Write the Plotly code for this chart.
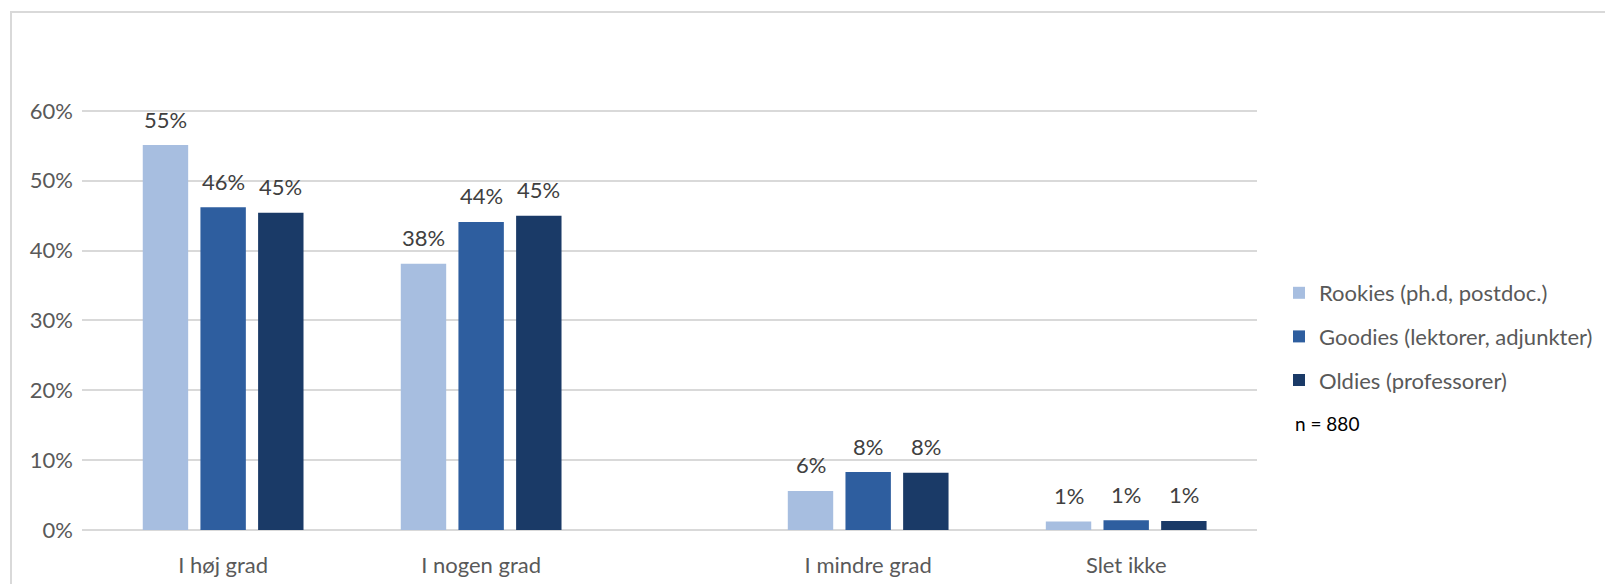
import plotly.graph_objects as go

categories = ["I høj grad", "I nogen grad", "I mindre grad", "Slet ikke"]
cat_pos = [0, 1, 2.5, 3.5]
series_names = ["Rookies (ph.d, postdoc.)", "Goodies (lektorer, adjunkter)", "Oldies (professorer)"]
rookies = [0.551, 0.381, 0.056, 0.012]
goodies = [0.462, 0.441, 0.083, 0.014]
oldies = [0.454, 0.450, 0.082, 0.013]
colors = ["#A7BEE0", "#2E5E9F", "#1A3A67"]
y_ticks = [0, 0.1, 0.2, 0.3, 0.4, 0.5, 0.6]
note = "n = 880"

FONT = "Lato, 'Open Sans', sans-serif"
step = 0.2235
bw = 0.176

# page body has an 8px margin, so the figure is 8px smaller than the window
W, H = 1605, 576
L, R, T, B = 74, 356, 33, 54
pw, ph = W - L - R, H - T - B

fig = go.Figure()
annotations = []
for i, (name, vals, col) in enumerate(zip(series_names, [rookies, goodies, oldies], colors)):
    off = (i - 1) * step
    fig.add_trace(go.Bar(
        x=cat_pos, y=vals, name=name, marker=dict(color=col, line=dict(width=0)),
        width=bw, offset=off - bw / 2, legendgroup=name,
    ))
    for xp, v in zip(cat_pos, vals):
        annotations.append(dict(
            x=xp + off, y=v, xref="x", yref="y", text=f"{round(v*100):.0f}%",
            showarrow=False, yshift=26, yanchor="middle",
            font=dict(family=FONT, size=22, color="#404040"),
        ))

annotations.append(dict(
    x=(1285 - L) / pw, y=(H - B - 415) / ph, xref="paper", yref="paper", text=note,
    showarrow=False, font=dict(family=FONT, size=19, color="#000000"),
    xanchor="left", yanchor="middle",
))

fig.update_layout(
    width=W, height=H,
    margin=dict(l=L, r=R, t=T, b=B, autoexpand=False),
    paper_bgcolor="white", plot_bgcolor="white",
    font=dict(family=FONT, size=22, color="#595959"),
    barmode="overlay",
    showlegend=True,
    legend=dict(
        x=(1271 - L) / pw, y=0.5276, xanchor="left", yanchor="top",
        font=dict(family=FONT, size=22, color="#595959"),
        tracegroupgap=12, traceorder="grouped", itemwidth=30,
        bgcolor="rgba(0,0,0,0)",
    ),
    xaxis=dict(
        range=[-0.547, 4.007], tickvals=cat_pos, ticktext=categories,
        showgrid=False, zeroline=False, showline=False, ticks="",
        tickfont=dict(family=FONT, size=22, color="#595959"),
        ticklabelstandoff=20, fixedrange=True,
    ),
    yaxis=dict(
        range=[0, 0.7], tickvals=y_ticks, tickformat=".0%",
        showgrid=True, gridcolor="#D9D9D9", gridwidth=2,
        zeroline=True, zerolinecolor="#D9D9D9", zerolinewidth=2,
        showline=False, ticks="",
        tickfont=dict(family=FONT, size=22, color="#595959"),
        ticklabelstandoff=8, fixedrange=True,
    ),
    annotations=annotations,
    shapes=[dict(
        type="rect", xref="paper", yref="paper",
        x0=(3 - L) / pw, x1=(W + 40 - L) / pw,
        y0=(H - B - (H + 40)) / ph, y1=(H - B - 4) / ph,
        line=dict(color="#D9D9D9", width=2), fillcolor="rgba(0,0,0,0)", layer="below",
    )],
)

fig.write_html("out.html")
